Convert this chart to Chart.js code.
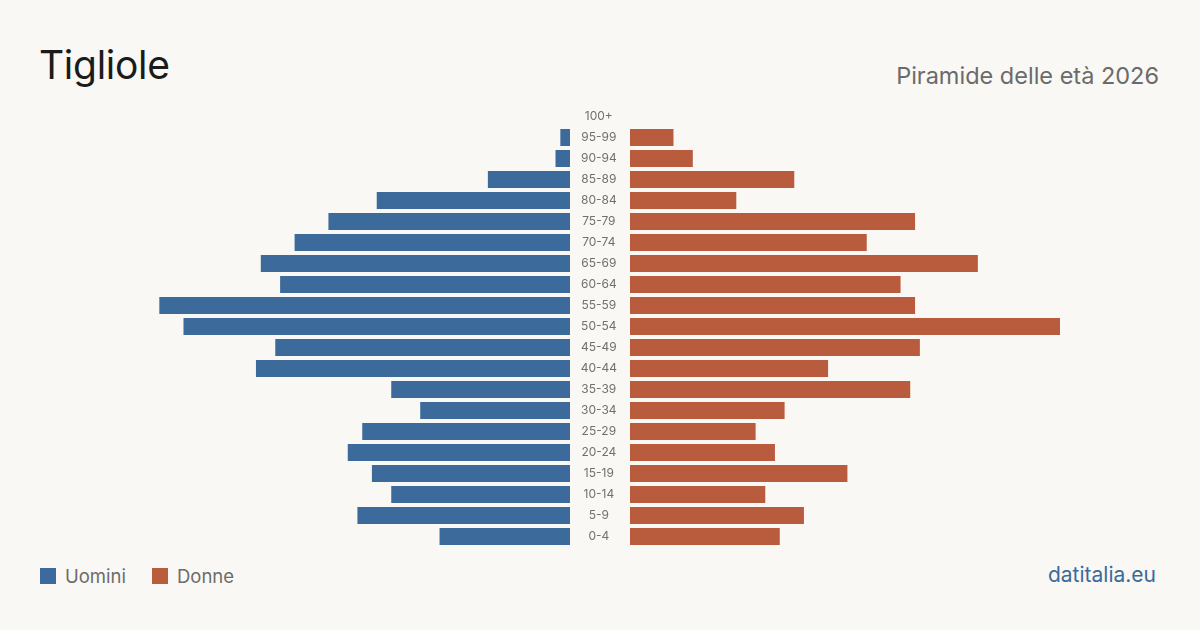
<!DOCTYPE html>
<html lang="it">
<head>
<meta charset="utf-8">
<title>Tigliole - Piramide delle età 2026</title>
<script src="https://cdn.jsdelivr.net/npm/chart.js@4"></script>
<style>
  html, body { margin: 0; padding: 0; }
  body {
    width: 1200px; height: 630px; overflow: hidden; position: relative;
    background: #f9f8f4; font-family: Inter, "Open Sans", sans-serif;
  }
  .title { position: absolute; left: 39px; top: 41px; font-size: 39px; color: #1b1b1b; letter-spacing: -0.3px; }
  .subtitle { position: absolute; right: 41px; top: 61px; font-size: 23.5px; color: #6b6b6b; }
  .legend { position: absolute; left: 40px; top: 565px; font-size: 18.5px; color: #6b6b6b; display: flex; align-items: center; }
  .legend span.sw { display: inline-block; width: 16px; height: 16px; margin-right: 9px; }
  .legend .item { display: flex; align-items: center; margin-right: 26px; }
  .source { position: absolute; right: 44px; top: 562px; font-size: 21px; color: #3b6a9b; }
  #left-wrap { position: absolute; left: 140px; top: 106px; width: 430px; height: 441px; }
  #right-wrap { position: absolute; left: 570px; top: 106px; width: 490px; height: 441px; }
</style>
</head>
<body>
<div class="title">Tigliole</div>
<div class="subtitle">Piramide delle età 2026</div>
<div class="legend">
  <div class="item"><span class="sw" style="background:#3b6a9b"></span>Uomini</div>
  <div class="item"><span class="sw" style="background:#b95c3d"></span>Donne</div>
</div>
<div class="source">datitalia.eu</div>
<div id="left-wrap"><canvas id="left-chart"></canvas></div>
<div id="right-wrap"><canvas id="right-chart"></canvas></div>
<script>
// --- Data (top row = oldest) ---
const ageGroups = ['100+', '95-99', '90-94', '85-89', '80-84', '75-79', '70-74', '65-69', '60-64', '55-59',
  '50-54', '45-49', '40-44', '35-39', '30-34', '25-29', '20-24', '15-19', '10-14', '5-9', '0-4'];
const uomini = [0, 2, 3, 17, 40, 50, 57, 64, 60, 85, 80, 61, 65, 37, 31, 43, 46, 41, 37, 44, 27];
const donne = [0, 9, 13, 34, 22, 59, 49, 72, 56, 59, 89, 60, 41, 58, 32, 26, 30, 45, 28, 36, 31];

const BLUE = '#3b6a9b';
const RED = '#b95c3d';
const maxVal = Math.max(...uomini, ...donne);

Chart.defaults.font.family = 'Inter, "Open Sans", sans-serif';
Chart.defaults.animation = false;

function baseOptions(reverse) {
  return {
    indexAxis: 'y',
    responsive: true,
    maintainAspectRatio: false,
    layout: { padding: 0 },
    plugins: { legend: { display: false }, tooltip: { enabled: false } },
    scales: {
      x: { display: false, min: 0, max: maxVal, reverse: reverse },
      y: { display: false, grid: { display: false } }
    }
  };
}

// --- Left side: men, bars grow leftwards ---
new Chart(document.getElementById('left-chart'), {
  type: 'bar',
  data: {
    labels: ageGroups,
    datasets: [{ data: uomini, backgroundColor: BLUE, barPercentage: 1, categoryPercentage: 0.81 }]
  },
  options: baseOptions(true)
});

// --- Right side: women, with age labels in the middle column ---
const rightOpts = baseOptions(false);
rightOpts.scales.y = {
  display: true,
  border: { display: false },
  grid: { display: false, drawTicks: false },
  ticks: { color: '#707070', font: { size: 12 }, crossAlign: 'center', padding: 13 },
  afterFit: (scale) => {
    // keep the label column 60px wide and stop tick padding from shrinking the bars
    scale.width = 60;
    scale.paddingTop = 0;
    scale.paddingBottom = 0;
  }
};
new Chart(document.getElementById('right-chart'), {
  type: 'bar',
  data: {
    labels: ageGroups,
    datasets: [{ data: donne, backgroundColor: RED, barPercentage: 1, categoryPercentage: 0.81 }]
  },
  options: rightOpts
});
</script>
</body>
</html>
